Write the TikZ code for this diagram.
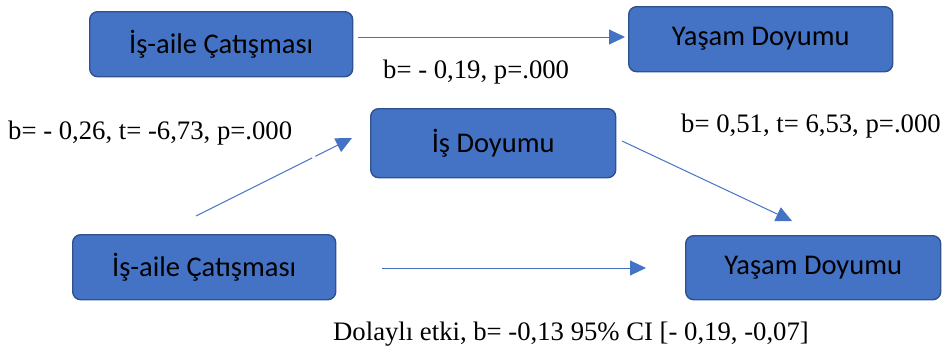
\documentclass[tikz,border=0pt]{standalone}
\usepackage{fontspec}
\setmainfont{Liberation Serif}
\newfontfamily\boxfont{Carlito}
\usetikzlibrary{arrows.meta}
\definecolor{boxfill}{HTML}{4472C4}
\definecolor{boxline}{HTML}{2F528F}
\tikzset{
  varbox/.style={draw=boxline, line width=1.4pt, fill=boxfill, rounded corners=8pt,
    anchor=north west, inner sep=0pt, font=\boxfont\fontsize{28.5}{32}\selectfont, text=black},
  link/.style={draw=boxfill, line width=1pt, -{Triangle[length=16pt,width=15pt]}},
  lbl/.style={font=\fontsize{26.7}{30}\selectfont, inner sep=0pt, text=black},
}
\begin{document}
\begin{tikzpicture}[x=1pt,y=-1pt]
\useasboundingbox (0,0) rectangle (943,356);
% variable boxes
\node[varbox, minimum width=263pt, minimum height=65pt] (x1) at (89,11) {İş-aile Çatışması};
\node[varbox, minimum width=264pt, minimum height=65pt] (y1) at (628,6) {Yaşam Doyumu};
\node[varbox, minimum width=245pt, minimum height=69pt] (m) at (370,108) {İş Doyumu};
\node[varbox, minimum width=263pt, minimum height=65pt] (x2) at (72,234) {İş-aile Çatışması};
\node[varbox, minimum width=255pt, minimum height=64pt] (y2) at (685,235) {Yaşam Doyumu};
% arrow end points
\coordinate (a1s) at (358,37);
\coordinate (a1e) at (625,37);
\coordinate (a2s) at (196,216);
\coordinate (a2e) at (352,138);
\coordinate (a3s) at (622,141);
\coordinate (a3e) at (792,221);
\coordinate (a4s) at (382,268);
\coordinate (a4e) at (646,268);
\draw[link] (a1s) -- (a1e);
\draw[link] (a2s) -- (a2e) coordinate[pos=0.745] (gapa) coordinate[pos=0.765] (gapb);
\draw[white, line width=3pt] (gapa) -- (gapb);
\draw[link] (a3s) -- (a3e);
\draw[link] (a4s) -- (a4e);
% coefficients
\node[lbl, anchor=west] (l1) at (383,72) {b= - 0,19, p=.000};
\node[lbl, anchor=west] (l2) at (8,133) {b= - 0,26, t= -6,73, p=.000};
\node[lbl, anchor=west] (l3) at (681,126) {b= 0,51, t= 6,53, p=.000};
\node[lbl, anchor=west] (l4) at (333,334) {Dolaylı etki, b= -0,13 95\% CI [- 0,19, -0,07]};
\end{tikzpicture}
\end{document}
